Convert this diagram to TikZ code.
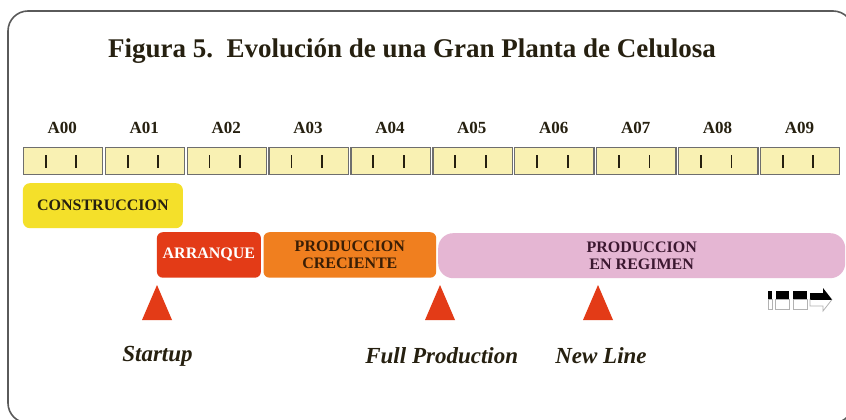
\documentclass[tikz,border=0pt]{standalone}
\usepackage{fontspec}
\setmainfont{Liberation Serif}
\definecolor{framec}{HTML}{5A5A5A}
\definecolor{cellfill}{HTML}{F9F1B3}
\definecolor{cellline}{HTML}{6E6E6E}
\definecolor{yellowc}{HTML}{F4E02A}
\definecolor{redc}{HTML}{E33B17}
\definecolor{orangec}{HTML}{F07F1F}
\definecolor{pinkc}{HTML}{E5B6D3}
\definecolor{darkc}{HTML}{262010}
\definecolor{browndark}{HTML}{3A1E05}
\definecolor{purpledark}{HTML}{3B1830}
\begin{document}
\begin{tikzpicture}[x=1pt,y=-1pt,
  cellbox/.style={draw=cellline, line width=1.3pt, fill=cellfill, minimum width=79.3pt, minimum height=27pt, inner sep=0pt, anchor=north west},
  tickmark/.style={draw=darkc, line width=1.8pt},
  yearlab/.style={anchor=base, inner sep=0pt, font=\fontsize{17}{17}\selectfont\bfseries, text=darkc},
  phase/.style={anchor=north west, inner sep=0pt, align=center, font=\fontsize{16}{16.5}\selectfont\bfseries},
  event/.style={anchor=base, inner sep=0pt, font=\fontsize{23}{23}\selectfont\bfseries\itshape, text=darkc},
  marker/.style={fill=redc}]
\useasboundingbox (0,0) rectangle (846,420);
\clip (0,0) rectangle (846,420);
\fill[white] (0,0) rectangle (846,420);
\draw[framec, line width=1.6pt, rounded corners=20pt] (8,11) rectangle (853,423);

\node[anchor=base west, inner sep=0pt, font=\fontsize{27}{27}\selectfont\bfseries, text=darkc] (title) at (108,58) {Figura 5.\ \ Evolución de una Gran Planta de Celulosa};

\foreach \i in {0,...,9} {
  \pgfmathsetmacro\xa{22.7+81.9*\i}
  \node[cellbox] (cell\i) at (\xa,147) {};
  \draw[tickmark] (\xa+23,155) -- (\xa+23,168);
  \draw[tickmark] (\xa+53.5,155) -- (\xa+53.5,168);
  \node[yearlab] (lab\i) at (\xa+39.65,133.5) {A0\i};
}

\node[phase, fill=yellowc, rounded corners=7pt, minimum width=160pt, minimum height=45pt, text=darkc] (cons) at (22.7,183) {CONSTRUCCION};
\node[phase, fill=redc, rounded corners=6pt, minimum width=104pt, minimum height=45.5pt, text=white] (arr) at (156.7,232) {ARRANQUE};
\node[phase, fill=orangec, rounded corners=6pt, minimum width=172.7pt, minimum height=45.5pt, text=browndark] (crec) at (263.3,232) {PRODUCCION\\CRECIENTE};
\node[phase, fill=pinkc, rounded corners=15pt, minimum width=407pt, minimum height=45pt, text=purpledark] (reg) at (438,233) {PRODUCCION\\EN REGIMEN};

\fill[marker] (142,320) -- (157,285) -- (172,320) -- cycle;
\fill[marker] (425,320) -- (440,285) -- (455,320) -- cycle;
\fill[marker] (583,320) -- (598,285) -- (613,320) -- cycle;

\node[event] (startup) at (157.5,361) {Startup};
\node[event] (fullprod) at (441.7,363) {Full Production};
\node[event] (newline) at (601,363) {New Line};

% small navigation icon
\draw[gray!60, line width=0.8pt] (768,299) rectangle (772,309);
\fill[black] (768,291) rectangle (772,299);
\draw[gray!60, line width=0.8pt] (775.5,299) rectangle (789,309);
\fill[black] (775.5,291) rectangle (789,299);
\draw[gray!60, line width=0.8pt] (793,299) rectangle (807,309);
\fill[black] (793,291) rectangle (807,299);
\begin{scope}
  \clip (808,285) rectangle (835,299);
  \fill[black] (810,293) -- (823,293) -- (823,288) -- (832,299.5) -- (823,311) -- (823,306) -- (810,306) -- cycle;
\end{scope}
\draw[gray!60, line width=0.8pt] (810,299) -- (810,306) -- (823,306) -- (823,311) -- (832,299.5);
\end{tikzpicture}
\end{document}
